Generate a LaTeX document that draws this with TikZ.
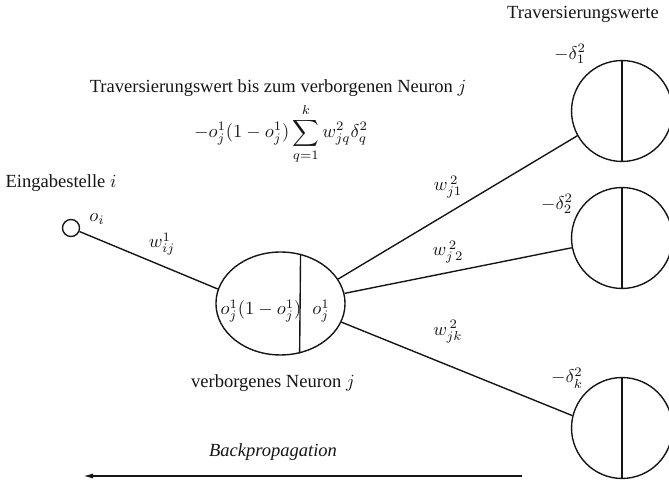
\documentclass[tikz,border=0pt]{standalone}
\usepackage{amsmath}
\usepackage{fontspec}
\setmainfont{Liberation Serif}
\usepackage{tikz}
\usetikzlibrary{
  arrows.meta,
  shapes,
  shapes.geometric,
  positioning,
  calc
}
\definecolor{nnInk}{HTML}{151515}

\begin{document}
\begin{tikzpicture}[x=0.54pt, y=-0.54pt, font=\fontsize{10}{12}\selectfont,
  nnInk, line width=0.75pt,
  inneuron/.style={circle, draw, minimum size=9.2pt, inner sep=0pt},
  hidneuron/.style={ellipse, draw, minimum width=69.7pt, minimum height=55.6pt, inner sep=0pt},
  outneuron/.style={circle, draw, minimum size=54.5pt, inner sep=0pt},
  lbl/.style={inner sep=1pt}]
  \useasboundingbox (0,0) rectangle (669,483);

  % input
  \node[inneuron] (in) at (71,228) {};
  \node[lbl] (inTitle) at (61,183) {Eingabestelle $i$};
  \node[lbl] (inOut) at (97,219) {$o_i$};

  % hidden neuron
  \node[hidneuron] (hid) at (280.5,303.5) {};
  \draw (hid.68.3) -- (hid.291.7);
  \node[lbl] (hidL) at (261,311) {$o^1_j(1-o^1_j)$};
  \node[lbl] (hidR) at (321,311) {$o^1_j$};
  \node[lbl] (hidTitle) at (273,383) {verborgenes Neuron $j$};
  \draw (in) -- (hid.167);
  \node[lbl] (wIn) at (162,244) {$w^1_{ij}$};

  % traversal value
  \node[lbl] (travTitle) at (278,88) {Traversierungswert bis zum verborgenen Neuron $j$};
  \node[lbl] (travFormula) at (281,134) {$\displaystyle -o^1_j(1-o^1_j)\sum_{q=1}^{k} w^2_{jq}\delta^2_q$};

  % output neurons
  \node[lbl] (outTitle) at (583,14) {Traversierungswerte};
  \foreach \n/\cy/\dlab/\dx/\dy/\ha/\ca/\wlab/\wy in {
    1/111/{-\delta^2_1}/570/54/23.4/209.5/{w^{\,2}_{j1}}/187,
    2/238/{-\delta^2_2}/557/204/9.5/191/{w^{\,2}_{j\,2}}/252,
    k/428/{-\delta^2_k}/567/378/343/166.5/{w^{\,2}_{jk}}/332}{
    \node[outneuron] (out\n) at (622,\cy) {};
    \draw (out\n.north) -- (out\n.south);
    \node[lbl] (delta\n) at (\dx,\dy) {$\dlab$};
    \draw (hid.\ha) -- (out\n.\ca);
    \node[lbl] (w\n) at (448,\wy) {$\wlab$};
  }

  % direction
  \coordinate (bpStart) at (522,476);
  \coordinate (bpEnd) at (83,476);
  \draw[-{Latex[length=5.4pt, width=2.7pt]}] (bpStart) -- (bpEnd);
  \node[lbl] (bpLabel) at (273,452) {\textit{Backpropagation}};
\end{tikzpicture}
\end{document}
